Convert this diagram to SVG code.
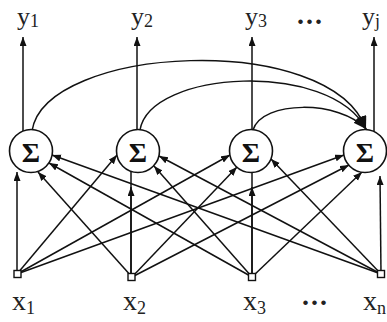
<svg xmlns="http://www.w3.org/2000/svg" width="387" height="322" viewBox="0 0 387 322">
<style>
.ln{fill:none;stroke:#111;stroke-width:1.5}
.ar{marker-end:url(#ah)}
.nd{fill:#fff;stroke:#111;stroke-width:1.6}
.in{fill:#fff;stroke:#111;stroke-width:1.4}
.sg{font-family:"Liberation Serif","DejaVu Serif",serif;font-weight:bold;font-size:28px;fill:#111;text-anchor:middle}
.lb{font-family:"Liberation Serif","DejaVu Serif",serif;font-size:28px;fill:#222}
.tp{font-size:26px}
.sb{font-size:18px}
.dt{font-family:"Liberation Serif","DejaVu Serif",serif;font-weight:bold;font-size:28px;fill:#222;letter-spacing:2px}
</style>
<defs>
<marker id="ah" markerUnits="userSpaceOnUse" markerWidth="10" markerHeight="8" refX="9" refY="3.5" orient="auto">
<path d="M0,0 L9,3.5 L0,7 z" fill="#111"/>
</marker>
<marker id="ab" markerUnits="userSpaceOnUse" markerWidth="14" markerHeight="12" refX="13" refY="5" orient="auto">
<path d="M0,0 L13,5 L0,10 z" fill="#111"/>
</marker>
</defs>
<rect width="387" height="322" fill="#fff"/>
<g id="connectors">
<line class="ln ar" x1="23" y1="131" x2="23" y2="37"/>
<line class="ln ar" x1="137" y1="130" x2="137" y2="37"/>
<line class="ln ar" x1="252" y1="130" x2="252" y2="37"/>
<line class="ln ar" x1="374" y1="132" x2="374" y2="37"/>
<path class="ln" d="M32,131 C45,45 330,30 366,129" marker-end="url(#ab)"/>
<path class="ln" d="M140,130 C150,70 330,60 366,129" marker-end="url(#ab)"/>
<path class="ln" d="M253,130 C262,100 340,100 366,129" marker-end="url(#ab)"/>
<line class="ln ar" x1="17" y1="274" x2="17" y2="172"/>
<line class="ln ar" x1="132" y1="277" x2="38" y2="172"/>
<line class="ln ar" x1="252" y1="277" x2="49" y2="163"/>
<line class="ln ar" x1="381" y1="274" x2="52" y2="155"/>
<line class="ln ar" x1="17" y1="274" x2="117" y2="155"/>
<line class="ln" x1="131" y1="277" x2="131" y2="171"/>
<line class="ln ar" x1="131" y1="277" x2="131" y2="187"/>
<line class="ln ar" x1="252" y1="277" x2="154" y2="166"/>
<line class="ln ar" x1="381" y1="274" x2="159" y2="156"/>
<line class="ln ar" x1="17" y1="274" x2="230" y2="155"/>
<line class="ln ar" x1="132" y1="277" x2="237" y2="167"/>
<line class="ln" x1="252" y1="277" x2="252" y2="172"/>
<line class="ln ar" x1="252" y1="277" x2="252" y2="187"/>
<line class="ln ar" x1="381" y1="274" x2="271" y2="159"/>
<line class="ln ar" x1="17" y1="274" x2="344" y2="155"/>
<line class="ln ar" x1="132" y1="277" x2="349" y2="165"/>
<line class="ln ar" x1="252" y1="277" x2="362" y2="172"/>
<line class="ln ar" x1="381" y1="274" x2="380" y2="176"/>
</g>
<g id="sum1"><circle class="nd" cx="31" cy="151" r="21.5"/><text class="sg" x="31" y="162">Σ</text></g>
<g id="sum2"><circle class="nd" cx="138" cy="151" r="21.5"/><text class="sg" x="138" y="162">Σ</text></g>
<g id="sum3"><circle class="nd" cx="251" cy="151" r="21.5"/><text class="sg" x="251" y="162">Σ</text></g>
<g id="sum4"><circle class="nd" cx="365" cy="151" r="21.5"/><text class="sg" x="365" y="162">Σ</text></g>
<g id="in1"><rect class="in" x="14" y="270.5" width="7" height="7"/><text class="lb" x="12" y="310">x<tspan class="sb" dy="4">1</tspan></text></g>
<g id="in2"><rect class="in" x="128" y="273.5" width="7" height="7"/><text class="lb" x="123" y="310">x<tspan class="sb" dy="4">2</tspan></text></g>
<g id="in3"><rect class="in" x="248.5" y="273.5" width="7" height="7"/><text class="lb" x="243" y="310">x<tspan class="sb" dy="4">3</tspan></text></g>
<g id="inn"><rect class="in" x="377.5" y="270.5" width="7" height="7"/><text class="lb" x="363" y="310">x<tspan class="sb" dy="4" font-size="16">n</tspan></text></g>
<g id="out1"><text class="lb tp" x="17" y="25">y<tspan class="sb" dy="2">1</tspan></text></g>
<g id="out2"><text class="lb tp" x="131" y="25">y<tspan class="sb" dy="2">2</tspan></text></g>
<g id="out3"><text class="lb tp" x="245" y="25">y<tspan class="sb" dy="2">3</tspan></text></g>
<g id="outj"><text class="lb tp" x="362" y="25">y<tspan class="sb" dy="2">j</tspan></text></g>
<text class="dt" x="297" y="24">...</text>
<text class="dt" x="302" y="305">...</text>
</svg>
